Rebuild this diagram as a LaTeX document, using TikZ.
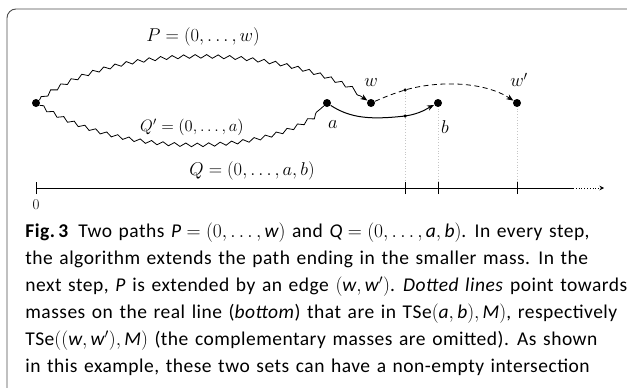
\RequirePackage{fix-cm}
\documentclass[tikz,border=0pt]{standalone}
\usepackage{fontspec}
\setsansfont{Carlito}[LetterSpace=2.5,WordSpace=1.35]
\usetikzlibrary{decorations.pathmorphing,arrows.meta,backgrounds}
\newcommand{\mv}[1]{\textit{#1}}
\begin{document}
\begin{tikzpicture}[x=1pt,y=-1pt,line width=0.8pt,
  dot/.style={circle,fill,inner sep=0pt,minimum size=8pt},
  sdot/.style={circle,fill,inner sep=0pt,minimum size=3.5pt},
  lab/.style={inner sep=0pt,font=\fontsize{18.5}{22}\selectfont},
  slab/.style={inner sep=0pt,font=\fontsize{16.5}{20}\selectfont},
  wave/.style={decorate,decoration={snake,amplitude=1.8pt,segment length=11.5pt,post length=5pt}},
  tip/.style={-{Stealth[length=7pt,width=5.5pt]}},
  guide/.style={gray!45,dotted,line width=0.8pt},
  captxt/.style={anchor=base west,inner sep=0pt,font=\sffamily\fontsize{19.5}{22}\selectfont}
]
\useasboundingbox (0,0) rectangle (627,388);
\begin{scope}
\clip (0,0) rectangle (627,388);
\draw[line width=0.9pt,black!70,rounded corners=9pt] (7,9) rectangle (650,410);
\end{scope}

% vertices
\node[dot] (o) at (36,103) {};
\node[dot] (a) at (327,103) {};
\node[dot] (w) at (371,103) {};
\node[dot] (b) at (438,103) {};
\node[dot] (w2) at (517,103) {};
\node[sdot] (m1) at (405,116) {};
\node[sdot] (m2) at (405,90) {};

% labels
\node[lab] (lP) at (203,37) {$P=(0,\ldots,w)$};
\node[lab] (lQ) at (252,171) {$Q=(0,\ldots,a,b)$};
\node[slab] (lQp) at (192,127) {$Q'=(0,\ldots,a)$};
\node[lab] (lw) at (371,83) {$w$};
\node[lab] (lw2) at (519,80) {$w'$};
\node[lab] (la) at (333,125) {$a$};
\node[lab] (lb) at (445,127) {$b$};

% axis
\coordinate (x0) at (36,188);
\coordinate (x1) at (573,188);
\coordinate (x2) at (604,188);
\coordinate (t1) at (405,188);
\coordinate (t2) at (438,188);
\coordinate (t3) at (517,188);
\draw (x0) -- (x1);
\draw[dotted,-{Stealth[length=4.5pt,width=4.5pt]}] (x1) -- (x2);
\foreach \t in {x0,t1,t2,t3} \draw ([yshift=-6pt]\t) -- ([yshift=6pt]\t);
\node[lab,font=\fontsize{15}{18}\selectfont] (l0) at (36,205) {0};

% guides
\begin{scope}[on background layer]
\draw[guide] (m2.center) -- (t1);
\draw[guide] (b.center) -- (t2);
\draw[guide] (w2.center) -- (t3);
\end{scope}

% paths
\draw[wave,tip] (o) .. controls (110,44) and (285,44) .. (w);
\draw[wave] (o) .. controls (120,156) and (270,156) .. (a);
\draw[tip,line width=1pt] (a) .. controls (350,118) and (370,120) .. (m1.center)
  .. controls (420,114) and (428,108) .. (b);
\draw[tip,dash pattern=on 5pt off 3.5pt] (w) .. controls (385,97) and (392,94) .. (m2.center)
  .. controls (440,80) and (485,82) .. (w2);

% caption
\node[captxt] (c1) at (25,237.5) {\textbf{Fig.\,3}\hspace{0.5em}Two paths $\mv{P}=(0,\ldots,\mv{w})$ and $\mv{Q}=(0,\ldots,\mv{a},\mv{b})$. In every step,};
\node[captxt] (c2) at (25,264.5) {the algorithm extends the path ending in the smaller mass. In the};
\node[captxt] (c3) at (25,291.5) {next step, \mv{P} is extended by an edge $(\mv{w},\mv{w}')$. \textit{Dotted lines} point towards};
\node[captxt] (c4) at (25,318.5) {masses on the real line (\textit{bottom}) that are in TSe$(\mv{a},\mv{b}),\mv{M})$, respectively};
\node[captxt] (c5) at (25,345.5) {TSe$((\mv{w},\mv{w}'),\mv{M})$ (the complementary masses are omitted). As shown};
\node[captxt] (c6) at (25,372.5) {in this example, these two sets can have a non-empty intersection};
\end{tikzpicture}
\end{document}
